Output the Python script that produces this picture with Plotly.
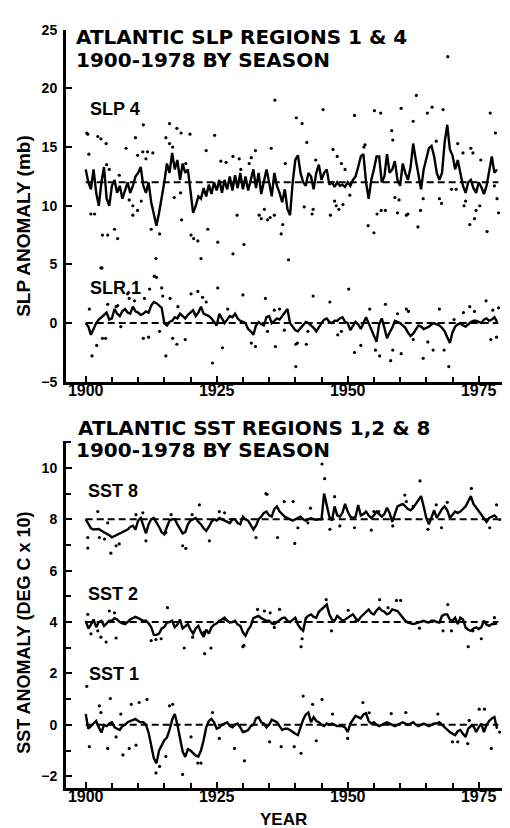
import plotly.graph_objects as go

W, H = 510, 828

# ---------------- data ----------------
LINE_START = 1900.0
LINE_STEP = 0.5

SLP4_LINE = [
    13.1, 12.0, 11.4, 13.1, 11.1, 10.0, 12.0, 13.3, 10.6, 10.0,
    11.7, 12.2, 11.1, 11.7, 10.6, 11.4, 12.0, 11.1, 11.7, 12.5,
    12.8, 13.3, 11.7, 11.1, 12.0, 10.3, 9.4, 8.3, 9.4, 10.6,
    12.0, 13.6, 12.8, 14.5, 13.1, 13.9, 12.2, 13.6, 12.8, 13.1,
    11.1, 9.4, 10.0, 10.8, 10.6, 11.5, 10.8, 11.8, 11.0, 12.0,
    11.3, 12.2, 11.1, 12.2, 11.4, 12.5, 11.3, 12.6, 11.5, 12.8,
    11.4, 12.5, 11.3, 12.2, 13.1, 11.5, 12.8, 11.0, 12.2, 13.1,
    12.0, 10.8, 12.8, 11.7, 11.1, 10.3, 11.4, 9.7, 9.2, 12.0,
    13.9, 14.3, 12.8, 12.0, 11.7, 12.8, 12.5, 11.4, 12.8, 13.5,
    12.2, 12.8, 13.1, 11.8, 12.0, 11.6, 12.0, 11.7, 11.8, 11.6,
    12.0, 11.7, 12.2, 12.5, 13.3, 14.2, 14.4, 12.0, 10.6, 12.2,
    13.1, 14.2, 14.2, 12.0, 12.5, 14.4, 12.8, 13.1, 13.8, 12.2,
    11.7, 13.6, 12.8, 12.2, 13.3, 15.3, 13.9, 12.8, 11.4, 13.1,
    13.9, 14.9, 15.1, 14.2, 12.8, 12.2, 12.8, 15.4, 16.9, 14.8,
    14.3, 13.1, 13.9, 12.8, 11.7, 11.1, 12.0, 12.2, 11.5, 11.1,
    12.0, 11.6, 11.0, 11.7, 13.1, 14.2, 12.8, 13.1,
]

SLP1_LINE = [
    0.0, -0.3, -1.0, -0.5, 0.0, 0.3, 0.5, 0.7, 0.9, 0.3,
    0.4, 1.2, 0.8, 0.6, 1.0, 1.2, 0.9, 0.8, 1.4, 1.0,
    0.9, 0.7, 0.8, 1.0, 0.9, 1.5, 1.8, 1.7, 1.5, 1.3,
    0.0, -0.2, 0.1, 0.2, 0.5, 0.4, 0.8, 0.6, 0.4, 0.7,
    0.9, 1.1, 0.6, 0.9, 1.4, 0.8, 0.7, 0.6, 0.4, 0.1,
    -0.2, 0.8, 0.4, 0.0, 0.3, 0.6, 0.5, 0.8, 0.4, 0.2,
    0.1, 0.0, -0.5, -0.7, -1.0, -0.2, 0.1, -0.1, -0.2, 0.5,
    0.6, 0.0, 0.2, 0.4, 0.3, 0.6, 0.9, 1.2, 0.0, -0.3,
    -0.6, -0.7, -0.4, -0.1, 0.1, 0.0, -0.2, -0.4, -0.7, -0.3,
    0.0, 0.3, 0.4, 0.1, 0.0, 0.2, 0.2, 0.4, 0.5, 0.1,
    0.0, -0.6, -0.3, 0.1, -0.1, -0.5, 0.0, 0.5, 0.0, -0.5,
    -1.0, -1.6, -0.1, 0.4, -0.4, -1.3, -0.8, -0.4, 0.2, 0.1,
    0.0, -0.2, -0.4, -0.8, -1.1, -0.9, -0.6, -0.2, -0.3, -0.5,
    -0.4, -0.3, -0.1, 0.0, -0.1, -0.2, -0.4, -0.7, -1.2, -1.7,
    -0.8, -0.3, -0.1, 0.0, -0.2, -0.3, -0.1, 0.1, 0.2, 0.2,
    0.1, 0.0, 0.3, 0.4, 0.2, 0.3, 0.5, 0.1,
]

SST8_LINE = [
    8.0, 7.8, 7.65, 7.6, 7.6, 7.62, 7.55, 7.5, 7.42, 7.38,
    7.3, 7.35, 7.4, 7.45, 7.5, 7.55, 7.6, 7.7, 7.75, 7.6,
    7.95, 8.05, 7.7, 7.45, 7.8, 8.0, 8.05, 7.9, 7.7, 7.5,
    7.42, 7.7, 7.95, 8.0, 8.0, 7.8, 7.6, 7.45, 7.5, 7.8,
    7.95, 8.0, 8.05, 7.9, 7.8, 7.65, 7.55, 7.7, 7.9, 8.0,
    7.95, 8.05, 8.0, 7.95, 7.9, 7.85, 8.0, 8.0, 7.85, 7.8,
    8.1, 8.0, 7.95, 7.8, 7.6, 7.75, 8.0, 8.1, 8.25, 8.3,
    8.15, 8.1, 8.4, 8.5, 8.3, 8.2, 8.1, 8.05, 8.0, 7.95,
    8.0, 8.05, 8.1, 8.0, 7.95, 8.0, 8.05, 8.0, 7.98, 8.0,
    8.0, 9.0, 8.6, 8.1, 7.95, 8.5, 8.15, 8.1, 8.25, 8.6,
    8.3, 8.1, 8.05, 8.1, 8.55, 8.15, 8.2, 8.3, 8.15, 8.05,
    8.15, 8.3, 8.2, 8.1, 8.2, 8.45, 8.25, 7.9, 8.2, 8.5,
    8.55, 8.6, 8.5, 8.4, 8.35, 8.45, 8.6, 8.75, 8.9, 8.5,
    8.05, 7.8, 8.1, 8.35, 8.05, 8.25, 8.4, 8.5, 8.35, 8.05,
    8.2, 8.3, 8.25, 8.3, 8.4, 8.5, 8.7, 8.9, 8.6, 8.45,
    8.35, 8.15, 8.0, 7.9, 8.05, 8.1, 8.15, 8.05,
]

SST2_LINE = [
    4.05, 3.75, 3.9, 4.1, 3.8, 4.0, 4.05, 3.85, 3.95, 4.05,
    4.05, 4.15, 4.1, 4.0, 3.95, 3.92, 4.0, 4.1, 4.15, 4.2,
    4.15, 4.1, 4.05, 4.05, 3.95, 3.8, 3.5, 3.5, 3.55, 3.75,
    3.8, 3.98, 4.0, 4.05, 3.8, 3.9, 4.1, 3.75, 3.85, 3.92,
    3.7, 3.55, 3.75, 3.85, 3.6, 3.42, 3.7, 3.55, 3.8, 3.9,
    3.95, 4.05, 4.1, 4.17, 4.05, 3.98, 4.0, 4.05, 3.9, 3.85,
    3.6, 3.47, 3.7, 3.85, 4.15, 4.2, 4.24, 4.15, 4.1, 4.05,
    4.05, 3.95, 3.92, 4.0, 4.05, 4.15, 4.17, 4.05, 4.0, 4.1,
    4.17, 3.9, 3.75, 3.66, 4.15, 4.25, 4.3, 4.2, 4.17, 4.4,
    4.5, 4.6, 4.68, 4.3, 4.1, 4.05, 4.24, 4.15, 4.05, 4.1,
    4.17, 4.25, 4.3, 4.15, 4.05, 4.2, 4.3, 4.4, 4.49, 4.35,
    4.3, 4.45, 4.56, 4.45, 4.4, 4.3, 4.35, 4.49, 4.45, 4.43,
    4.3, 4.17, 4.05, 3.98, 3.95, 3.92, 3.95, 3.98, 4.02, 4.05,
    4.0, 3.98, 4.05, 4.05, 4.0, 3.98, 4.24, 4.3, 4.3, 4.1,
    4.05, 4.17, 3.92, 4.17, 4.1, 3.79, 3.7, 3.66, 3.75, 3.79,
    3.73, 3.8, 4.05, 3.9, 3.85, 3.92, 3.92, 3.95,
]

SST1_LINE = [
    0.42, -0.15, -0.05, 0.05, 0.15, -0.1, -0.3, 0.0, -0.05, 0.05,
    0.1, -0.1, -0.15, -0.2, -0.05, 0.0, 0.1, 0.15, 0.2, 0.23,
    0.15, 0.1, 0.1, 0.0, -0.3, -0.8, -1.3, -1.5, -1.0, -0.8,
    -0.6, -0.5, -0.2, 0.2, 0.42, 0.0, -0.5, -1.04, -1.25, -0.95,
    -1.0, -1.1, -1.2, -1.23, -1.0, -0.6, -0.1, 0.15, 0.23, 0.1,
    -0.15, -0.1, 0.0, 0.05, 0.1, -0.05, -0.1, 0.0, 0.05, -0.1,
    -0.28, -0.25, -0.2, -0.05, 0.0, 0.25, 0.3, 0.1, 0.05, -0.1,
    0.0, 0.2, 0.15, 0.1, -0.05, -0.2, -0.15, -0.15, -0.2, -0.28,
    -0.35, -0.4, -0.1, 0.2, 0.4, 0.48, 0.1, 0.3, 0.15, 0.1,
    0.0, -0.05, 0.05, 0.0, 0.05, 0.0, -0.05, -0.05, -0.05, -0.1,
    -0.28, 0.05, 0.2, 0.35, 0.3, 0.25, 0.4, 0.45, 0.15, 0.05,
    0.1, 0.0, -0.05, 0.0, 0.05, 0.1, 0.05, 0.0, -0.05, 0.0,
    0.05, 0.1, 0.05, 0.0, 0.05, 0.1, 0.0, -0.05, 0.0, 0.05,
    0.0, -0.05, 0.0, 0.05, 0.05, 0.1, 0.0, -0.1, -0.2, -0.28,
    -0.35, -0.4, -0.25, -0.2, -0.35, -0.47, -0.15, -0.05, -0.05, -0.28,
    -0.1, 0.05, -0.28, 0.0, 0.15, 0.25, 0.3, -0.15,
]

# individual seasonal values (year, value)
SLP4_DOTS = [
    (1900.2, 16.2), (1900.4, 16.1), (1900.6, 14.4), (1901.0, 9.3), (1901.7, 9.3), (1902.3, 15.9),
    (1902.9, 15.7), (1903.1, 4.7), (1903.2, 7.5), (1903.9, 15.3), (1904.0, 13.5), (1904.2, 7.5),
    (1904.5, 13.1), (1905.5, 8.0), (1906.1, 7.2), (1906.4, 12.6), (1907.7, 14.9), (1908.3, 10.5),
    (1909.0, 10.0), (1909.0, 9.2), (1909.5, 15.8), (1909.9, 14.3), (1909.9, 9.6), (1910.6, 10.4),
    (1910.9, 14.6), (1911.0, 16.9), (1911.5, 14.0), (1911.8, 14.6), (1912.5, 8.0), (1912.8, 14.5),
    (1913.4, 5.5), (1914.1, 7.6), (1915.3, 15.8), (1916.0, 17.0), (1916.0, 15.3), (1916.6, 15.0),
    (1916.9, 10.7), (1917.4, 16.6), (1918.1, 11.1), (1918.2, 16.2), (1918.3, 8.8), (1919.1, 13.6),
    (1919.9, 16.1), (1920.1, 7.5), (1920.6, 7.2), (1921.4, 7.0), (1922.0, 5.5), (1923.0, 14.7),
    (1923.3, 8.0), (1924.6, 16.0), (1925.2, 6.9), (1925.8, 13.8), (1926.8, 13.7), (1928.1, 14.2),
    (1928.1, 5.9), (1928.9, 9.2), (1929.3, 14.0), (1929.6, 13.1), (1930.2, 6.7), (1931.2, 13.6),
    (1931.6, 14.1), (1932.4, 14.7), (1933.1, 9.2), (1933.5, 8.9), (1934.1, 9.7), (1934.7, 8.8),
    (1935.2, 9.0), (1935.4, 14.9), (1936.0, 9.2), (1936.1, 19.0), (1937.3, 7.6), (1937.6, 8.4),
    (1938.1, 13.6), (1938.7, 5.4), (1940.2, 17.5), (1941.3, 17.0), (1941.7, 9.9), (1942.2, 15.4),
    (1943.2, 9.3), (1943.4, 9.7), (1943.9, 13.9), (1945.3, 18.2), (1946.7, 9.2), (1947.2, 14.8),
    (1947.5, 10.4), (1947.8, 10.0), (1948.0, 14.2), (1948.3, 9.7), (1948.8, 13.6), (1949.1, 10.1),
    (1949.5, 13.1), (1950.4, 10.9), (1951.3, 17.7), (1953.1, 15.0), (1953.3, 15.2), (1953.9, 8.3),
    (1955.0, 7.7), (1955.1, 18.1), (1955.6, 9.3), (1956.3, 17.9), (1956.4, 9.6), (1957.2, 9.6),
    (1958.4, 16.4), (1958.6, 15.6), (1959.0, 10.7), (1959.5, 9.4), (1959.8, 10.5), (1960.2, 18.3),
    (1961.2, 9.2), (1961.5, 9.3), (1962.5, 17.2), (1963.1, 19.4), (1963.4, 8.2), (1963.9, 9.6),
    (1964.4, 10.6), (1965.2, 17.9), (1966.1, 18.4), (1966.9, 15.5), (1967.5, 10.6), (1967.9, 10.2),
    (1968.2, 18.2), (1969.1, 22.7), (1969.8, 11.4), (1970.7, 11.4), (1971.0, 15.3), (1972.0, 14.5),
    (1972.2, 10.0), (1972.5, 10.4), (1973.3, 8.4), (1973.5, 14.9), (1973.9, 14.5), (1974.2, 8.9),
    (1974.5, 9.6), (1975.2, 10.0), (1975.4, 13.9), (1976.6, 7.8), (1977.2, 17.9), (1978.0, 11.7),
    (1978.2, 16.2), (1978.5, 10.6), (1978.8, 9.4),
]

SLP1_DOTS = [
    (1900.7, 1.2), (1901.2, -2.8), (1902.1, -1.9), (1902.9, 4.7), (1903.2, -1.3), (1903.8, -1.3),
    (1904.2, 1.6), (1905.8, 1.4), (1906.1, 1.5), (1906.7, -0.3), (1908.0, 2.5), (1908.3, 2.1),
    (1909.3, 1.9), (1911.0, -1.3), (1911.2, 2.1), (1912.0, -1.2), (1912.2, 2.9), (1913.1, 4.0),
    (1913.5, 3.9), (1914.1, -0.7), (1914.5, 3.0), (1914.7, 2.3), (1915.3, -2.8), (1916.1, 2.1),
    (1916.6, -1.3), (1917.4, -1.8), (1917.6, 1.4), (1919.0, -1.4), (1920.1, 2.5), (1921.4, 2.7),
    (1922.3, 2.2), (1923.0, 1.8), (1924.2, -3.4), (1925.2, 3.0), (1926.1, -2.1), (1927.1, 1.2),
    (1930.0, 2.4), (1931.6, -1.7), (1932.4, -2.0), (1934.3, 2.1), (1934.7, -0.7), (1936.0, 1.1),
    (1936.2, -2.0), (1937.0, 1.2), (1937.9, -0.6), (1940.1, -3.7), (1940.1, -1.8), (1940.4, -1.7),
    (1942.1, -1.8), (1942.4, -0.7), (1943.4, 2.3), (1946.6, 1.8), (1948.1, -1.0), (1948.8, -0.7),
    (1950.2, 2.9), (1951.3, -2.5), (1952.5, -1.9), (1954.2, 1.2), (1955.3, -2.3), (1956.1, -2.8),
    (1957.2, 1.6), (1958.2, -3.2), (1958.6, -2.3), (1959.5, 0.8), (1960.2, -2.6), (1961.2, 1.2),
    (1961.6, 1.0), (1962.5, -1.4), (1964.4, -3.0), (1965.3, -1.6), (1966.3, -2.3), (1967.5, 1.2),
    (1968.4, -2.3), (1969.3, -3.7), (1970.3, 0.3), (1972.1, 0.9), (1973.3, 1.4), (1974.2, 1.0),
    (1976.4, 1.9), (1977.3, -1.4), (1977.7, 1.1), (1978.4, -1.2), (1978.8, 1.3),
]

SST8_DOTS = [
    (1900.4, 7.29), (1900.4, 6.88), (1902.3, 8.3), (1902.6, 7.29), (1903.6, 7.23), (1904.2, 7.86),
    (1904.8, 6.68), (1905.8, 6.97), (1906.4, 7.04), (1909.6, 8.18), (1910.9, 8.25), (1911.5, 7.16),
    (1915.3, 7.48), (1916.3, 8.18), (1918.5, 6.97), (1919.1, 6.87), (1920.3, 8.18), (1921.7, 8.56),
    (1923.6, 7.16), (1925.5, 8.3), (1926.5, 8.25), (1932.5, 7.29), (1934.4, 9.0), (1934.6, 8.97),
    (1936.6, 7.29), (1937.9, 8.69), (1939.6, 8.69), (1939.9, 7.06), (1940.5, 7.67), (1942.4, 7.86),
    (1942.9, 8.43), (1945.1, 10.15), (1945.6, 9.58), (1946.6, 7.61), (1947.5, 8.88), (1948.5, 7.74),
    (1951.3, 7.67), (1954.5, 7.58), (1955.0, 8.3), (1955.9, 8.3), (1958.6, 7.74), (1960.9, 8.94),
    (1961.2, 8.69), (1962.5, 8.5), (1963.8, 9.49), (1965.3, 7.61), (1966.9, 8.56), (1967.9, 7.67),
    (1969.0, 8.66), (1973.6, 9.2), (1977.1, 7.67), (1978.4, 8.56), (1979.0, 7.99),
]

SST2_DOTS = [
    (1900.4, 4.3), (1901.0, 3.54), (1902.3, 3.66), (1902.9, 3.41), (1903.9, 3.22), (1904.5, 4.43),
    (1905.5, 4.36), (1905.8, 3.38), (1912.5, 3.28), (1913.4, 3.32), (1914.4, 3.35), (1915.6, 4.56),
    (1918.8, 2.99), (1920.4, 3.41), (1922.6, 3.6), (1922.7, 2.77), (1923.9, 2.99), (1926.5, 4.11),
    (1930.0, 3.04), (1930.2, 3.09), (1932.8, 4.49), (1934.1, 4.43), (1935.2, 4.36), (1936.0, 3.79),
    (1937.0, 4.49), (1941.1, 3.04), (1941.3, 3.35), (1945.9, 4.87), (1946.9, 3.66), (1950.1, 4.46),
    (1951.6, 4.05), (1956.1, 4.87), (1957.7, 4.56), (1959.3, 4.84), (1960.1, 4.84), (1963.7, 3.76),
    (1968.2, 3.66), (1969.1, 4.68), (1969.8, 3.66), (1973.0, 3.04), (1973.9, 3.66), (1975.5, 3.35),
    (1978.0, 4.17),
]

SST1_DOTS = [
    (1900.2, 1.5), (1900.7, -0.85), (1902.6, 0.74), (1902.9, 0.48), (1904.2, -0.92), (1904.7, 1.02),
    (1905.8, -0.47), (1906.7, 0.42), (1907.1, -1.17), (1908.3, -0.92), (1908.7, 0.8), (1909.6, -0.79),
    (1910.2, 0.87), (1911.7, 0.99), (1913.4, -1.87), (1914.1, -1.62), (1915.3, -1.23), (1916.0, 0.74),
    (1916.6, 0.8), (1918.5, -1.93), (1920.1, -0.47), (1921.4, -1.49), (1922.0, -1.49), (1924.2, 0.48),
    (1925.5, -0.53), (1928.4, -0.92), (1930.3, -1.4), (1935.1, -0.66), (1937.3, -0.85), (1939.8, -0.85),
    (1941.1, -1.11), (1941.5, 1.12), (1943.3, 0.8), (1944.0, -0.62), (1945.1, 0.99), (1947.1, 0.42),
    (1950.0, -0.53), (1952.9, 0.87), (1954.1, 0.47), (1958.3, 0.44), (1961.1, 0.48), (1967.2, 0.42),
    (1970.0, -0.66), (1971.0, -0.66), (1972.9, -0.73), (1973.2, 0.17), (1975.1, 0.61), (1976.1, 0.61),
    (1977.4, -0.92), (1979.0, -0.28),
]

SLP_REFS = [12, 0]
SST_REFS = [8, 4, 0]
REF_SPAN = [1900, 1978.75]

X_LABELS = [1900, 1925, 1950, 1975]
X_MINOR = [1905, 1910, 1915, 1920, 1930, 1935, 1940, 1945, 1955, 1960, 1965, 1970, 1980]
SLP_TICKS = [-5, 0, 5, 10, 15, 20, 25]
SST_TICKS = [-2, 0, 2, 4, 6, 8, 10]
SST_MINOR = [-1, 1, 3, 5, 7, 9, 11]

# ---------------- figure ----------------
FONT = "Liberation Sans, Arial, sans-serif"
TITLE_FONT = "DejaVu Sans, Liberation Sans, sans-serif"
fig = go.Figure()


def line_years(vals):
    return [LINE_START + LINE_STEP * i for i in range(len(vals))]


def add_series(line_vals, dots, xa, ya):
    fig.add_trace(go.Scatter(
        x=[d[0] for d in dots], y=[d[1] for d in dots], mode="markers",
        marker=dict(color="black", size=3.2), xaxis=xa, yaxis=ya, hoverinfo="skip"))
    fig.add_trace(go.Scatter(
        x=line_years(line_vals), y=line_vals, mode="lines",
        line=dict(color="black", width=2.4), xaxis=xa, yaxis=ya))


for lvl in SLP_REFS:
    fig.add_trace(go.Scatter(x=REF_SPAN, y=[lvl, lvl], mode="lines",
                             line=dict(color="black", width=2, dash="7px,4px"),
                             xaxis="x", yaxis="y"))
for lvl in SST_REFS:
    fig.add_trace(go.Scatter(x=REF_SPAN, y=[lvl, lvl], mode="lines",
                             line=dict(color="black", width=2, dash="7px,4px"),
                             xaxis="x2", yaxis="y2"))

add_series(SLP4_LINE, SLP4_DOTS, "x", "y")
add_series(SLP1_LINE, SLP1_DOTS, "x", "y")
add_series(SST8_LINE, SST8_DOTS, "x2", "y2")
add_series(SST2_LINE, SST2_DOTS, "x2", "y2")
add_series(SST1_LINE, SST1_DOTS, "x2", "y2")


def px(x):
    return x / W


def py(y):
    return 1 - y / H


XRANGE = [1896.24, 1982.5]
common_x = dict(
    range=XRANGE, domain=[px(58), 1.0], showline=True, linewidth=3, linecolor="black",
    ticks="inside", ticklen=6, tickwidth=2, tickcolor="black",
    tickvals=X_LABELS, ticktext=[str(v) for v in X_LABELS],
    minor=dict(tickvals=X_MINOR, ticks="inside", ticklen=5, tickwidth=2, tickcolor="black"),
    showgrid=False, zeroline=False, ticklabelstandoff=-8,
    tickfont=dict(family=FONT, size=16, color="black", weight="bold"),
)
ytickfont = dict(family=FONT, size=14, color="black", weight="bold")
fig.update_layout(
    width=W, height=H, margin=dict(l=0, r=0, t=0, b=0),
    paper_bgcolor="white", plot_bgcolor="white", showlegend=False,
    xaxis=dict(**common_x, anchor="y"),
    xaxis2=dict(**common_x, anchor="y2"),
    yaxis=dict(range=[-5, 25], domain=[py(373), py(14)], anchor="x",
               showline=True, linewidth=3, linecolor="black",
               ticks="inside", ticklen=6, tickwidth=2, tickcolor="black",
               tickvals=SLP_TICKS, showgrid=False, zeroline=False,
               ticklabelstandoff=3, tickfont=ytickfont),
    yaxis2=dict(range=[-2.45, 11.06], domain=[py(787), py(433)], anchor="x2",
                showline=True, linewidth=3, linecolor="black",
                ticks="inside", ticklen=6, tickwidth=2, tickcolor="black",
                tickvals=SST_TICKS,
                minor=dict(tickvals=SST_MINOR, ticks="inside", ticklen=5, tickwidth=2, tickcolor="black"),
                showgrid=False, zeroline=False,
                ticklabelstandoff=3, tickfont=ytickfont),
)


def note(text, x, y, size, anchor="left", angle=0, family=FONT):
    fig.add_annotation(text=text, x=px(x), y=py(y), xref="paper", yref="paper",
                       xanchor=anchor, yanchor="middle", showarrow=False, textangle=angle,
                       font=dict(family=family, size=size, color="black", weight="bold"))


# titles
note("ATLANTIC SLP REGIONS 1 & 4", 66, 21.5, 20, family=TITLE_FONT)
note("1900-1978 BY SEASON", 66, 44.5, 20, family=TITLE_FONT)
note("ATLANTIC SST REGIONS 1,2 & 8", 68, 420, 20, family=TITLE_FONT)
note("1900-1978 BY SEASON", 66, 443, 20, family=TITLE_FONT)

# series labels
note("SLP 4", 80, 95, 18)
note("SLR.1", 80, 277, 18)
note("SST 8", 78, 484, 18)
note("SST 2", 78, 589, 18)
note("SST 1", 79, 671, 18)

# axis titles
note("SLP ANOMALY (mb)", 16, 214, 19, anchor="center", angle=-90)
note("SST ANOMALY (DEG C x 10)", 16, 629, 18, anchor="center", angle=-90)
note("YEAR", 275, 819, 17, anchor="center")

fig.write_html("out.html")
